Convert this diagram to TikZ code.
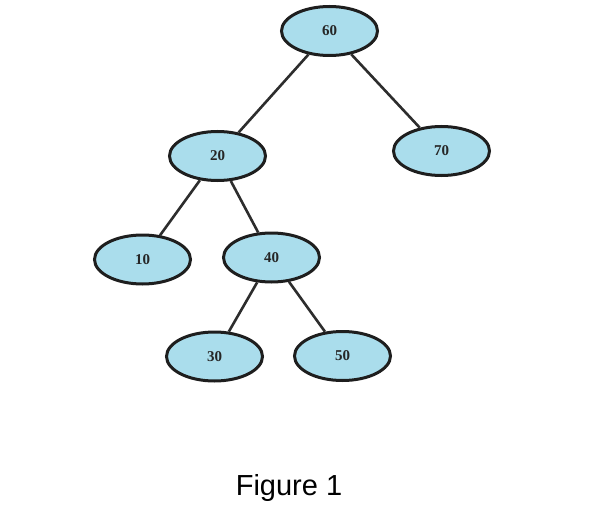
\documentclass[tikz,border=0pt]{standalone}
\usepackage{fontspec}
\setmainfont{Liberation Serif}
\newfontfamily\figfont{Liberation Sans}
\usetikzlibrary{shapes.geometric}
\definecolor{nodefill}{RGB}{170,221,236}
\definecolor{nodeline}{RGB}{30,30,30}
\definecolor{edgecol}{RGB}{45,45,45}
\tikzset{
  treenode/.style={ellipse, draw=nodeline, fill=nodefill, line width=3pt,
    minimum width=96pt, minimum height=49pt, inner sep=0pt,
    font=\fontsize{15}{18}\selectfont\bfseries, text=black!85},
  treeedge/.style={draw=edgecol, line width=2.6pt}
}
\begin{document}
\begin{tikzpicture}[x=1pt,y=-1pt]
\useasboundingbox (0,0) rectangle (593,505);
\node[treenode] (n60) at (329.5,31) {60};
\node[treenode] (n20) at (217.5,156) {20};
\node[treenode] (n70) at (441.5,151) {70};
\node[treenode] (n10) at (142.5,259.5) {10};
\node[treenode] (n40) at (271.5,257.5) {40};
\node[treenode] (n30) at (214.5,356.5) {30};
\node[treenode] (n50) at (342.5,356) {50};
\draw[treeedge] (n60) -- (n20);
\draw[treeedge] (n60) -- (n70);
\draw[treeedge] (n20) -- (n10);
\draw[treeedge] (n20) -- (n40);
\draw[treeedge] (n40) -- (n30);
\draw[treeedge] (n40) -- (n50);
\node[font=\figfont\fontsize{29}{34}\selectfont, anchor=base] (cap) at (289,495) {Figure 1};
\end{tikzpicture}
\end{document}
